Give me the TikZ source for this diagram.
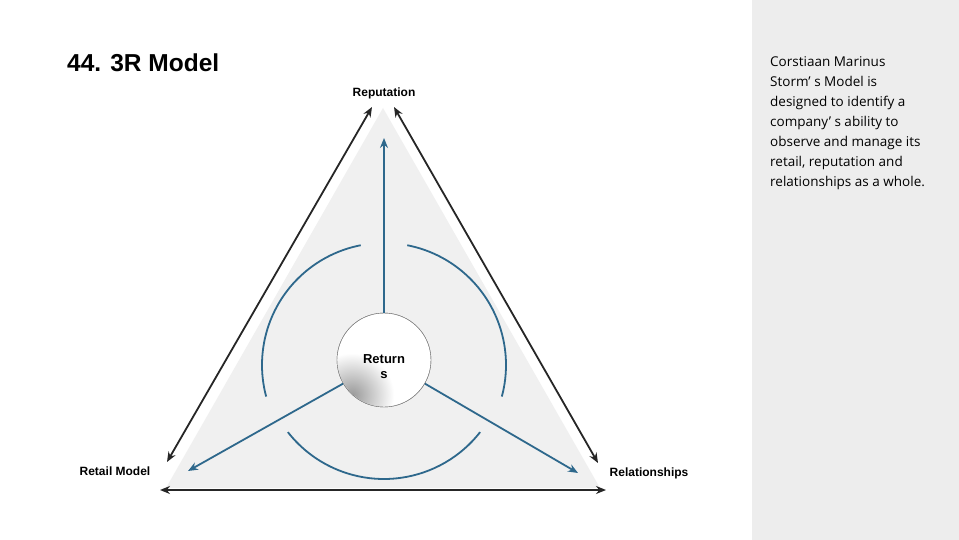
\documentclass[tikz,border=0pt]{standalone}
\usepackage{fontspec}
\setmainfont{Liberation Sans}
\newfontfamily\sidefont{Open Sans}
\usetikzlibrary{arrows.meta}
\begin{document}
\begin{tikzpicture}[x=1pt,y=-1pt,
  tip/.tip={Stealth[length=10pt,width=8pt]},
  blk/.style={draw=black!85,line width=1.8pt,tip-tip},
  blu/.style={color={rgb,255:red,46;green,104;blue,140},line width=1.8pt},
  lbl/.style={font=\bfseries\fontsize{12}{14}\selectfont}]
\useasboundingbox (0,0) rectangle (959,540);
\fill[white] (0,0) rectangle (959,540);
\fill[black!7] (752,0) rectangle (959,540);
\node[font=\bfseries\fontsize{24.5}{28}\selectfont,anchor=west,inner sep=0] (title) at (67,63) {44. 3R Model};
\fill[black!6] (383,108) -- (600,488) -- (166,488) -- cycle;
\coordinate (tl) at (372,107); \coordinate (tr) at (394,107);
\coordinate (bl) at (167,462); \coordinate (br) at (598,463);
\coordinate (ll) at (160,490); \coordinate (rr) at (606,490);
\draw[blk] (bl) -- (tl);
\draw[blk] (tr) -- (br);
\draw[blk] (ll) -- (rr);
\node[lbl] (rep) at (384,93) {Reputation};
\node[lbl] (ret) at (115,471) {Retail Model};
\node[lbl] (rel) at (649,473) {Relationships};
% circle
\node[circle,draw=black!50,fill=white,minimum size=94pt,inner sep=0] (c) at (384,360) {};
\begin{scope}
\clip (384,360) circle (46.5);
\shade[inner color=black!40,outer color=white] (352,395) circle (42);
\end{scope}
\draw[black!50] (384,360) circle (47);
\node[font=\bfseries\fontsize{13}{15}\selectfont,align=center] (rt) at (384,367) {Return\\s};
% blue
\coordinate (ua) at (384,138); \coordinate (la) at (188,471); \coordinate (ra) at (578,473);
\draw[blu,-tip] (c.north) -- (ua);
\draw[blu,-tip] (c.210) -- (la);
\draw[blu,-tip] (c.330) -- (ra);
\draw[blu] (384,365) ++(-101:122) arc[start angle=-101,end angle=-195,radius=122];
\draw[blu] (384,365) ++(-79:122) arc[start angle=-79,end angle=15,radius=122];
\draw[blu] (384,357) ++(-218:122) arc[start angle=-218,end angle=-322,radius=122];
\node[anchor=north west,align=left,inner sep=0,font=\sidefont\fontsize{13.5}{20}\selectfont] (side) at (770,56) {Corstiaan Marinus\\Storm’ s Model is\\designed to identify a\\company’ s ability to\\observe and manage its\\retail, reputation and\\relationships as a whole.};
\end{tikzpicture}
\end{document}
